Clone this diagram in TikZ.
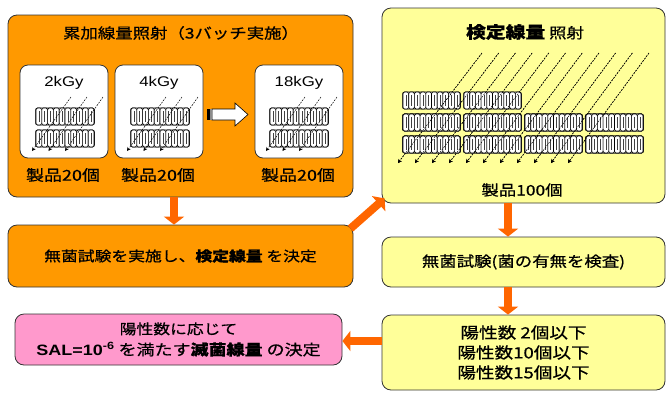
\documentclass[tikz,border=0pt]{standalone}
\usepackage{fontspec}
\setmainfont{Liberation Sans}[FakeStretch=1.2]
\newfontfamily\jp{Noto Sans CJK JP}[FakeStretch=1.2, FakeBold=0.7]
\usetikzlibrary{arrows.meta,calc}

\definecolor{boxorange}{HTML}{FF9900}
\definecolor{boxyellow}{HTML}{FFFF99}
\definecolor{boxpink}{HTML}{FF99CC}
\definecolor{flow}{HTML}{FF6600}
\definecolor{edge}{HTML}{333333}

% one row of packed products: left x, top y, number of cells, cell width
\newcommand\prodrow[4]{%
  \draw[blockframe] (#1-0.3,#2) rectangle ++({#3*#4+0.6},17);
  \foreach \c in {1,...,#3}{
    \draw[cell] ({#1+(\c-1)*#4},#2) rectangle ++(#4,17);
    \draw[cellmark] ({#1+(\c-0.5)*#4},#2+3) -- ++(0,11);
  }%
}

\tikzset{
  panel/.style={draw=edge, line width=0.8pt, rounded corners=9pt, inner sep=0pt},
  subpanel/.style={draw=edge, line width=0.8pt, rounded corners=8pt, fill=white,
    minimum width=88pt, minimum height=93pt, inner sep=0pt},
  blockframe/.style={draw=black, line width=0.9pt, rounded corners=2pt, fill=black!10},
  cell/.style={draw=black, line width=0.6pt, rounded corners=1.5pt, fill=white},
  cellmark/.style={draw=black!75, line width=0.6pt},
  ray/.style={draw=black, line width=0.5pt, dash pattern=on 1.8pt off 1.2pt,
    -{Stealth[length=3.8pt,width=3.8pt]}},
  flowarrow/.style={draw=flow, line width=8pt, -{Triangle[length=8pt,width=20pt]}},
  label/.style={inner sep=0pt, text=black},
}

\begin{document}
\begin{tikzpicture}[x=1pt,y=-1pt]
\useasboundingbox (0,0) rectangle (667,392);

% ---- cumulative dose irradiation (three batches) ----
\node[panel, fill=boxorange, minimum width=345pt, minimum height=182pt] (cum) at (180.5,106) {};
\node[label, font=\jp\fontsize{14.5}{16}\selectfont] (cumtitle) at (181,33) {累加線量照射（3バッチ実施）};

\node[subpanel] (b1) at (64,111.5) {};
\node[subpanel] (b2) at (159,111.5) {};
\node[subpanel] (b3) at (299,111.5) {};

\node[label, font=\fontsize{14}{16}\selectfont] (d1) at (64,83) {2kGy};
\node[label, font=\fontsize{14}{16}\selectfont] (d2) at (159,83) {4kGy};
\node[label, font=\fontsize{14}{16}\selectfont] (d3) at (299,83) {18kGy};

\node[label, font=\jp\fontsize{15}{16}\selectfont] (n1) at (63,175) {製品20個};
\node[label, font=\jp\fontsize{15}{16}\selectfont] (n2) at (158,175) {製品20個};
\node[label, font=\jp\fontsize{15}{16}\selectfont] (n3) at (298,175) {製品20個};

\foreach \x in {36,131,270}{
  \prodrow{\x}{108}{10}{5.8}
  \prodrow{\x}{130}{10}{5.8}
  \foreach \k in {0,1,2}
    \draw[ray] ({\x+35+16*\k},97) -- ({\x-4+16.5*\k},151);
}

% batch-to-batch hint arrow
\fill[white, draw=black, line width=0.6pt]
  (212,109) -- (235,109) -- (235,103) -- (248,114.5) -- (235,126) -- (235,120) -- (212,120) -- cycle;
\fill[black] (207,109) rectangle (210,120);
\fill[black!45] (210,109) rectangle (212,120);

% ---- verification dose irradiation ----
\node[panel, fill=boxyellow, minimum width=283pt, minimum height=195pt] (kt) at (523.5,105.5) {};
\node[label, font=\jp\fontsize{14.5}{16}\selectfont] (kttitle) at (525,32)
  {{\fontsize{16.5}{18}\selectfont\bfseries 検定線量} 照射};

\foreach \x in {403,464}
  \prodrow{\x}{92}{10}{5.7}
\foreach \x in {403,464,525,586}{
  \prodrow{\x}{114}{10}{5.7}
  \prodrow{\x}{136}{10}{5.7}
}
\foreach \k in {0,...,10}
  \draw[ray] ({482+16.7*\k},53) -- ({398+17*\k},163);

\node[label, font=\jp\fontsize{14.5}{16}\selectfont] (n4) at (522,190) {製品100個};

% ---- remaining steps ----
\node[panel, fill=boxorange, minimum width=345pt, minimum height=62pt,
  font=\jp\fontsize{14}{16}\selectfont] (det) at (180.5,256)
  {無菌試験を実施し、{\bfseries 検定線量} を決定};

\node[panel, fill=boxyellow, minimum width=283pt, minimum height=50pt,
  font=\jp\fontsize{14.5}{16}\selectfont] (test) at (523.5,262)
  {無菌試験(菌の有無を検査)};

\node[panel, fill=boxyellow, minimum width=283pt, minimum height=75pt, align=center,
  font=\jp\fontsize{15.5}{20}\selectfont] (res) at (523.5,352.5)
  {陽性数 2個以下\\陽性数10個以下\\陽性数15個以下};

\node[panel, fill=boxpink, minimum width=327pt, minimum height=51pt, align=center,
  font=\jp\fontsize{14}{21}\selectfont] (sal) at (178.5,339.5)
  {陽性数に応じて\\{\fontsize{15}{21}\selectfont{\normalfont\bfseries SAL=10\textsuperscript{-6}} を満たす{\bfseries 滅菌線量} の決定}};

% ---- flow arrows ----
\coordinate (ax1) at (174,0);
\coordinate (ax2) at (508,0);
\coordinate (ay) at (0,341);
\draw[flowarrow] (cum.south -| ax1) -- (det.north -| ax1);
\draw[flowarrow] ($(det.north east)+(-3,4)$) -- ($(kt.south west)+(3,-5)$);
\draw[flowarrow] (kt.south -| ax2) -- (test.north -| ax2);
\draw[flowarrow] (test.south -| ax2) -- (res.north -| ax2);
\draw[flowarrow] (res.west |- ay) -- (sal.east |- ay);
\end{tikzpicture}
\end{document}
